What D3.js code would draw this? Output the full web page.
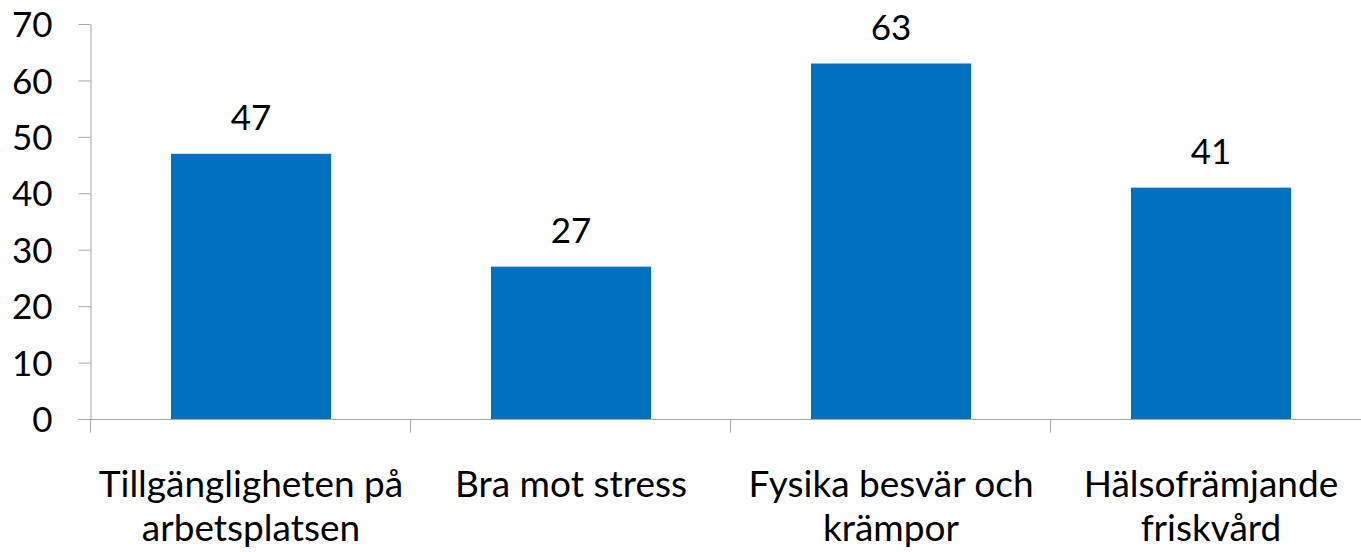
<!DOCTYPE html>
<html>
<head>
<meta charset="utf-8">
<script src="https://cdn.jsdelivr.net/npm/d3@7"></script>
<style>
  body { margin: 0; background: #fff; }
  text { font-family: Lato, "Open Sans", sans-serif; fill: #000; }
</style>
</head>
<body>
<div class="chart"></div>
<script>
const categories = [['Tillgängligheten på', 'arbetsplatsen'], ['Bra mot stress'], ['Fysika besvär och', 'krämpor'], ['Hälsofrämjande', 'friskvård']];
const values = [47, 27, 63, 41];
const yTicks = [0, 10, 20, 30, 40, 50, 60, 70];

const width = 1361, height = 552;
const margin = {top: 24, left: 91, bottom: 133};

const svg = d3.select('.chart').append('svg')
  .attr('width', width)
  .attr('height', height);

const x = d3.scaleBand()
  .domain(d3.range(values.length))
  .range([margin.left, margin.left + 4 * 320])
  .paddingInner(0.5)
  .paddingOuter(0.25);

const y = d3.scaleLinear()
  .domain([0, 70])
  .range([height - margin.bottom, margin.top]);

const axisColor = '#a6a6a6';

// y axis
const yAxis = svg.append('g')
  .attr('transform', `translate(${margin.left - 0.5},0)`)
  .call(d3.axisLeft(y).tickValues(yTicks).tickSize(12).tickPadding(26).tickSizeOuter(0));
yAxis.select('.domain').attr('stroke', axisColor);
yAxis.selectAll('.tick line').attr('stroke', axisColor);
yAxis.selectAll('.tick text').style('font-size', '35px').attr('dy', '0.36em');

// x axis
const xAxis = svg.append('g')
  .attr('transform', `translate(0,${y(0) + 0.5})`);
xAxis.append('line')
  .attr('x1', margin.left - 12).attr('x2', width)
  .attr('stroke', axisColor);
xAxis.selectAll('.sep')
  .data(d3.range(values.length + 1))
  .enter().append('line')
  .attr('class', 'sep')
  .attr('x1', i => margin.left - 0.5 + i * x.step())
  .attr('x2', i => margin.left - 0.5 + i * x.step())
  .attr('y1', 0).attr('y2', 13)
  .attr('stroke', axisColor);

// bars
svg.selectAll('.bar')
  .data(values)
  .enter().append('rect')
  .attr('class', 'bar')
  .attr('x', (d, i) => x(i))
  .attr('y', d => y(d))
  .attr('width', x.bandwidth())
  .attr('height', d => y(0) - y(d))
  .attr('fill', '#0070c0');

// value labels
svg.selectAll('.val')
  .data(values)
  .enter().append('text')
  .attr('class', 'val')
  .attr('x', (d, i) => x(i) + x.bandwidth() / 2)
  .attr('y', d => y(d) - 24)
  .attr('text-anchor', 'middle')
  .style('font-size', '35px')
  .text(d => d);

// category labels
const cat = svg.selectAll('.cat')
  .data(categories)
  .enter().append('text')
  .attr('class', 'cat')
  .attr('text-anchor', 'middle')
  .style('font-size', '37px');
cat.selectAll('tspan')
  .data((d, i) => d.map(t => ({t, i})))
  .enter().append('tspan')
  .attr('x', d => x(d.i) + x.bandwidth() / 2)
  .attr('y', (d, j) => 497 + j * 44)
  .text(d => d.t);
</script>
</body>
</html>
